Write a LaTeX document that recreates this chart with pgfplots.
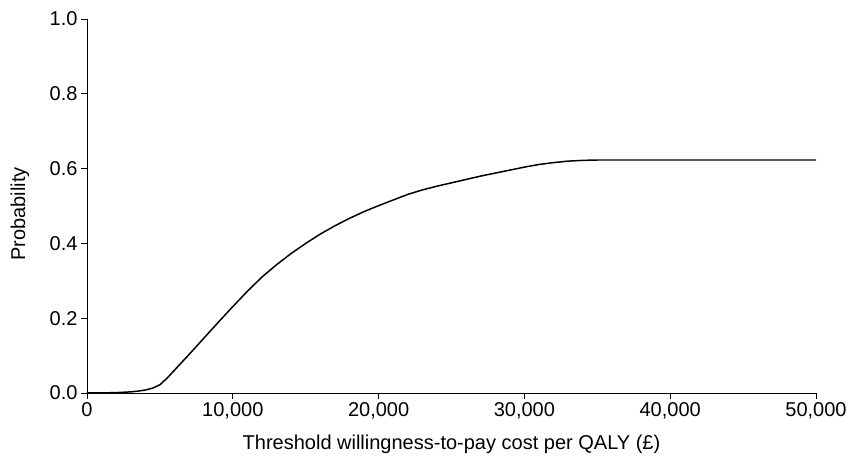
\documentclass[border=0pt]{standalone}
\usepackage{pgfplots}
\pgfplotsset{compat=1.18}
\usepackage{fontspec}
\setmainfont{Liberation Sans}
\begin{document}
\begin{tikzpicture}
\begin{axis}[
  scale only axis,
  width=729bp, height=374bp,
  xmin=0, xmax=50000, ymin=0, ymax=1,
  axis lines*=left,
  axis line style={line width=1pt},
  xtick={0,10000,20000,30000,40000,50000},
  ytick={0,0.2,0.4,0.6,0.8,1.0},
  tick align=outside,
  major tick length=6bp,
  tick style={black, line width=0.8pt},
  scaled x ticks=false,
  /pgf/number format/assume math mode=true,
  xticklabel style={/pgf/number format/.cd, 1000 sep={,}},
  yticklabel style={/pgf/number format/.cd, fixed, fixed zerofill, precision=1},
  ticklabel style={font=\fontsize{20bp}{24bp}\selectfont},
  label style={font=\fontsize{20bp}{24bp}\selectfont},
  xlabel={Threshold willingness-to-pay cost per QALY (\textsterling)},
  ylabel={Probability},
  xlabel style={at={(axis description cs:0.5,0)}, anchor=center, yshift=-51bp},
  ylabel style={at={(axis description cs:0,0.5)}, anchor=center, yshift=67bp, xshift=-8bp},
  clip=false,
]
\addplot[black, line width=1.5pt, line join=round] coordinates {
(0,0) (1000,0.0003) (2000,0.001) (3000,0.003) (3500,0.005) (4000,0.008)
(4500,0.013) (5000,0.022) (5500,0.040) (6000,0.061) (7000,0.103) (8000,0.146)
(9000,0.189) (10000,0.231) (11000,0.272) (12000,0.310) (13000,0.343)
(14000,0.373) (15000,0.400) (16000,0.425) (17000,0.447) (18000,0.467)
(19000,0.485) (20000,0.501) (21000,0.516) (22000,0.531) (23000,0.543)
(24000,0.553) (25000,0.562) (26000,0.571) (27000,0.580) (28000,0.588)
(29000,0.596) (30000,0.604) (31000,0.611) (32000,0.616) (33000,0.620)
(34000,0.622) (35000,0.623) (50000,0.623)
};
\end{axis}
\pgfresetboundingbox
\path ([shift={(-87bp,-73bp)}]current axis.south west) rectangle ([shift={(32bp,19bp)}]current axis.north east);
\end{tikzpicture}
\end{document}
